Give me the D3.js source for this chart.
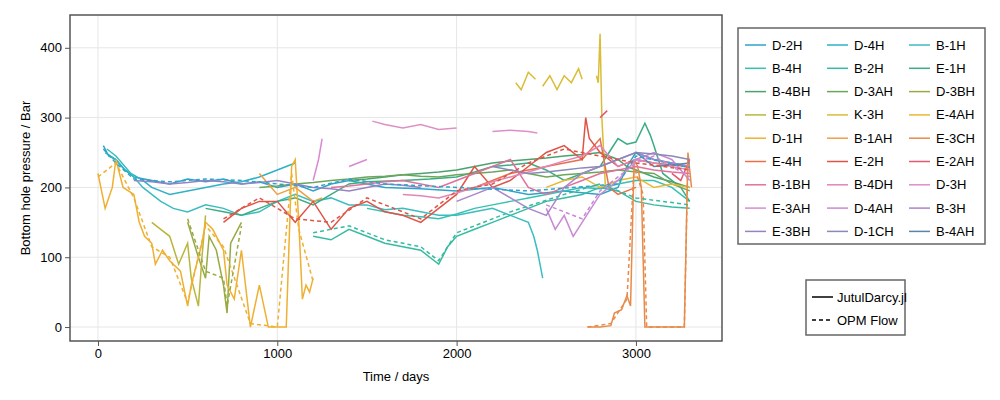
<!DOCTYPE html><html><head><meta charset="utf-8">
<script src="https://cdn.jsdelivr.net/npm/d3@7"></script>
<style>body{margin:0;background:#fff}text{font-family:"Liberation Sans",Arial,sans-serif}</style></head><body><svg id="c" width="1000" height="400"></svg>
<script>
const xTicks=[0,1000,2000,3000], yTicks=[0,100,200,300,400];
const wellNames=["D-2H","D-4H","B-1H","B-4H","B-2H","E-1H","B-4BH","D-3AH","D-3BH","E-3H","K-3H","E-4AH","D-1H","B-1AH","E-3CH","E-4H","E-2H","E-2AH","B-1BH","B-4DH","D-3H","E-3AH","D-4AH","B-3H","E-3BH","D-1CH","B-4AH"];
const wellColors=["#2fa3c9","#2eb2c5","#3bbdc0","#37c1b3","#36bba2","#3bac83","#4ca26f","#6ba65a","#97ab45","#bab63a","#d9bd36","#e9b935","#efb032","#eda044","#e88b4a","#e87049","#df5446","#e25a6e","#e0719b","#e286b8","#de90c6","#d98bd2","#c989d4","#aa84cc","#9783c4","#8b89b8","#5b84a8"];
const D_2H=[[30,260],[60,245],[100,240],[150,225],[200,215],[300,210],[400,205],[500,212],[600,208],[700,212],[800,205],[900,208],[1000,200],[1100,205],[1200,195],[1300,205],[1400,210],[1500,205],[1600,200],[1800,198],[2000,195],[2200,200],[2400,190],[2600,195],[2800,190],[2900,200],[2950,230],[3000,250],[3100,240],[3200,235],[3300,230]];
const D_4H=[[40,250],[100,240],[150,225],[250,210],[300,200],[400,190],[500,195],[600,200],[700,205],[800,208],[900,215],[1000,225],[1050,230],[1100,235]];
const B_1H=[[50,255],[100,245],[150,230],[200,215],[250,200],[350,180],[420,170],[500,165],[600,175],[700,170],[800,160],[900,165],[1000,180],[1100,190],[1200,180],[1300,185],[1400,175],[1500,175],[1600,168],[1700,170],[1800,165],[1900,160],[2000,160],[2100,165],[2200,170],[2300,160],[2400,150],[2430,130],[2450,110],[2480,70]];
const B_4H=[[1500,170],[1600,165],[1700,160],[1800,158],[1900,155],[2000,162],[2100,170],[2200,175],[2300,180],[2400,185],[2500,190],[2600,195],[2700,200],[2800,198],[2900,205],[3000,210],[3100,210],[3200,200],[3300,180]];
const B_2H=[[1200,130],[1300,125],[1400,140],[1500,130],[1600,120],[1700,115],[1800,110],[1850,100],[1900,90],[1950,115],[2000,130],[2100,140],[2200,150],[2300,160],[2400,170],[2500,180],[2600,185],[2700,190],[2800,200],[2900,195],[3000,180],[3100,175],[3200,172],[3300,170]];
const E_1H=[[600,170],[700,165],[800,160],[900,170],[1000,180],[1100,185],[1200,175],[1300,190],[1400,205],[1500,208],[1700,210],[1850,212],[2000,215],[2100,222],[2200,230],[2300,232],[2400,235],[2500,225],[2600,210],[2700,220],[2800,230],[2850,250],[2900,270],[2950,262],[3000,265],[3050,292],[3080,275],[3100,260],[3150,220],[3200,210],[3250,200],[3300,180]];
const B_4BH=[[1400,210],[1500,212],[1600,215],[1700,218],[1800,220],[1900,222],[2000,225],[2100,230],[2200,235],[2300,238],[2400,240],[2500,242],[2600,245],[2700,247],[2800,250],[2900,240],[2950,230],[3000,225],[3100,215],[3200,208],[3300,200]];
const D_3AH=[[900,200],[1000,202],[1100,205],[1200,207],[1300,210],[1400,212],[1500,215],[1600,216],[1700,218],[1800,216],[1900,215],[2000,218],[2100,220],[2200,222],[2300,225],[2400,220],[2500,215],[2600,218],[2700,220],[2800,222],[2900,225],[3000,222],[3100,220],[3200,205],[3300,195]];
const D_3BH=[[500,150],[530,125],[560,100],[600,70],[620,130],[660,110],[700,60],[720,20],[740,120],[780,140],[800,150]];
const E_3H=[[300,150],[350,140],[400,130],[450,90],[500,120],[520,70],[560,30],[580,100],[600,160]];
const K_3H=[[2330,350],[2360,340],[2400,365],[2440,355],[2450,null],[2480,345],[2520,360],[2560,340],[2600,360],[2640,350],[2680,370],[2700,355],[2710,null],[2780,360],[2790,350],[2800,420],[2810,300],[2830,200]];
const E_4AH=[[2500,200],[2600,210],[2700,215],[2800,200],[2900,210],[3000,215],[3100,200],[3200,205],[3300,200]];
const D_1H=[[0,220],[40,170],[80,200],[100,240],[140,200],[200,190],[230,150],[260,130],[300,120],[320,90],[360,110],[400,95],[460,80],[500,30],[520,60],[560,100],[580,120],[600,150],[640,140],[700,110],[720,60],[760,40],[800,110],[850,0],[900,60],[950,0],[1000,0],[1050,0],[1080,230],[1100,240],[1120,150],[1140,40],[1160,60],[1180,50],[1200,70]];
const B_1AH=[[900,220],[950,205],[1000,190],[1050,195],[1100,200],[1150,190],[1200,180],[1250,185]];
const E_3CH=[[2730,0],[2800,0],[2860,2],[2880,20],[2920,25],[2950,45],[2970,30],[2990,240],[3010,230],[3030,200],[3050,0],[3150,0],[3270,0],[3290,250],[3310,200]];
const E_4H=[[2100,200],[2200,210],[2300,220],[2400,225],[2500,230],[2600,235],[2700,240],[2800,270],[2850,200],[2900,190],[3000,200]];
const E_2H=[[700,150],[750,160],[800,170],[900,180],[1000,180],[1100,150],[1200,180],[1300,140],[1400,170],[1500,180],[1600,165],[1700,160],[1800,150],[1900,170],[2000,190],[2100,230],[2200,200],[2300,210],[2400,230],[2500,250],[2600,260],[2700,240],[2720,300],[2740,270],[2800,250],[2900,230],[3000,240],[3100,235],[3200,232],[3300,230]];
const E_2AH=[[2800,300],[2840,310],[2860,null],[3200,220],[3250,210],[3300,240]];
const B_1BH=[[1300,200],[1400,202],[1500,205],[1600,208],[1700,210],[1800,205],[1900,200],[2000,210],[2100,220],[2200,230],[2300,240],[2400,200],[2500,190],[2600,200],[2700,210],[2800,220],[2900,225],[3000,230],[3100,225],[3200,222],[3300,220]];
const B_4DH=[[1700,190],[1800,188],[1900,185],[2000,192],[2100,200],[2200,208],[2300,215],[2400,222],[2500,230],[2600,238],[2700,245],[2800,260],[2900,230],[3000,240],[3100,235],[3200,230],[3300,225]];
const D_3H=[[1530,295],[1600,290],[1700,285],[1800,290],[1900,283],[2000,285],[2050,null],[2200,280],[2300,282],[2400,280],[2450,278]];
const E_3AH=[[1200,210],[1230,240],[1250,270],[1270,null],[1400,230],[1450,235],[1500,240]];
const D_4AH=[[2500,170],[2550,140],[2600,160],[2650,130],[2700,150],[2800,190],[2900,210],[3000,240],[3100,250],[3200,240],[3300,210]];
const B_3H=[[2000,180],[2100,190],[2200,200],[2300,185],[2400,170],[2500,160],[2600,200],[2700,220],[2800,230],[2900,240],[3000,250],[3100,240],[3200,235],[3300,230]];
const E_3BH=[[200,210],[300,208],[400,205],[500,207],[600,210],[700,208],[800,205],[900,207],[1000,210],[1100,205],[1200,200],[1300,198],[1400,195],[1500,200],[1600,205],[1700,203],[1800,200]];
const D_1CH=[[2200,230],[2300,225],[2400,220],[2500,222],[2600,225],[2700,228],[2800,230],[2900,240],[3000,250],[3100,248],[3200,245],[3300,240]];
const B_4AH=[[3000,250],[3100,230],[3200,232],[3300,235]];
const jutul=[D_2H,D_4H,B_1H,B_4H,B_2H,E_1H,B_4BH,D_3AH,D_3BH,E_3H,K_3H,E_4AH,D_1H,B_1AH,E_3CH,E_4H,E_2H,E_2AH,B_1BH,B_4DH,D_3H,E_3AH,D_4AH,B_3H,E_3BH,D_1CH,B_4AH];
const opmD_2H=[[30,255],[100,235],[200,212],[400,208],[600,212],[800,210],[1000,205],[1200,200],[1400,212],[1600,205],[2000,200],[2400,195],[2900,205],[3000,245],[3300,228]];
const opmD_1H=[[0,215],[100,235],[200,185],[300,115],[400,100],[500,35],[600,145],[700,115],[850,5],[1000,0],[1080,220],[1120,140],[1200,65]];
const opmE_2H=[[700,155],[900,185],[1100,155],[1300,150],[1500,185],[1800,155],[2000,195],[2200,205],[2400,235],[2600,255],[2800,245],[3000,235],[3300,225]];
const opmE_3CH=[[2730,0],[2860,5],[2950,40],[2990,230],[3040,190],[3060,0],[3270,0],[3290,240]];
const opmB_2H=[[1200,135],[1400,145],[1600,125],[1800,115],[1900,95],[2000,135],[2300,165],[2600,190],[2800,205],[3000,185],[3300,175]];
const opmD_4AH=[[2500,175],[2600,165],[2700,155],[2800,195],[2900,215],[3000,235],[3100,245],[3300,215]];
const opmD_3BH=[[500,155],[600,80],[700,70],[720,30],[800,145]];
const opmIdx=[0,12,16,14,4,22,8];
const opm=[opmD_2H,opmD_1H,opmE_2H,opmE_3CH,opmB_2H,opmD_4AH,opmD_3BH];

const svg=d3.select("#c");
const L=70,R=722,T=15,B=341;
const x=d3.scaleLinear().domain([-156,3480]).range([L,R]);
const y=d3.scaleLinear().domain([-20,447]).range([B,T]);
const g=svg.append("g");
g.selectAll(".gx").data(xTicks).join("line").attr("x1",d=>x(d)).attr("x2",d=>x(d)).attr("y1",T).attr("y2",B).attr("stroke","#e6e6e6");
g.selectAll(".gy").data(yTicks).join("line").attr("y1",d=>y(d)).attr("y2",d=>y(d)).attr("x1",L).attr("x2",R).attr("stroke","#e6e6e6");
const line=d3.line().defined(d=>d[1]!=null).x(d=>x(d[0])).y(d=>y(d[1]));
jutul.forEach((s,i)=>g.append("path").attr("d",line(s)).attr("fill","none").attr("stroke",wellColors[i]).attr("stroke-width",1.5));
opm.forEach((s,i)=>g.append("path").attr("d",line(s)).attr("fill","none").attr("stroke",wellColors[opmIdx[i]]).attr("stroke-width",1.5).attr("stroke-dasharray","4,3"));
svg.append("rect").attr("x",L).attr("y",T).attr("width",R-L).attr("height",B-T).attr("fill","none").attr("stroke","#555").attr("stroke-width",1.5);
const xa=svg.append("g").attr("transform",`translate(0,${B})`).call(d3.axisBottom(x).tickValues(xTicks).tickFormat(d3.format("d")).tickSize(5).tickSizeOuter(0));
const ya=svg.append("g").attr("transform",`translate(${L},0)`).call(d3.axisLeft(y).tickValues(yTicks).tickFormat(d3.format("d")).tickSize(5).tickSizeOuter(0));
[xa,ya].forEach(a=>{a.select(".domain").remove();a.selectAll("line").attr("stroke","#555");a.selectAll("text").attr("font-size",13).attr("fill","#000").attr("font-family","Liberation Sans, Arial")});
svg.append("text").attr("x",(L+R)/2).attr("y",381).attr("text-anchor","middle").attr("font-size",13).text("Time / days");
svg.append("text").attr("transform",`translate(30,${(T+B)/2}) rotate(-90)`).attr("text-anchor","middle").attr("font-size",13).text("Bottom hole pressure / Bar");
svg.append("rect").attr("x",738).attr("y",28).attr("width",247).attr("height",216).attr("fill","#fff").attr("stroke","#666").attr("stroke-width",1.5);
wellNames.forEach((n,i)=>{const c=i%3,r=Math.floor(i/3);const lx=745+c*82,ly=45+r*23.3;
svg.append("line").attr("x1",lx).attr("x2",lx+21).attr("y1",ly).attr("y2",ly).attr("stroke",wellColors[i]).attr("stroke-width",1.5);
svg.append("text").attr("x",lx+27).attr("y",ly+4.5).attr("font-size",13).text(n);});
svg.append("rect").attr("x",806).attr("y",280).attr("width",99).attr("height",55).attr("fill","#fff").attr("stroke","#666").attr("stroke-width",1.5);
[["JutulDarcy.jl",null],["OPM Flow","4,3"]].forEach((d,i)=>{const ly=297+i*23;
svg.append("line").attr("x1",812).attr("x2",833).attr("y1",ly).attr("y2",ly).attr("stroke","#000").attr("stroke-width",1.5).attr("stroke-dasharray",d[1]);
svg.append("text").attr("x",837).attr("y",ly+4.5).attr("font-size",13).text(d[0]);});
</script></body></html>
